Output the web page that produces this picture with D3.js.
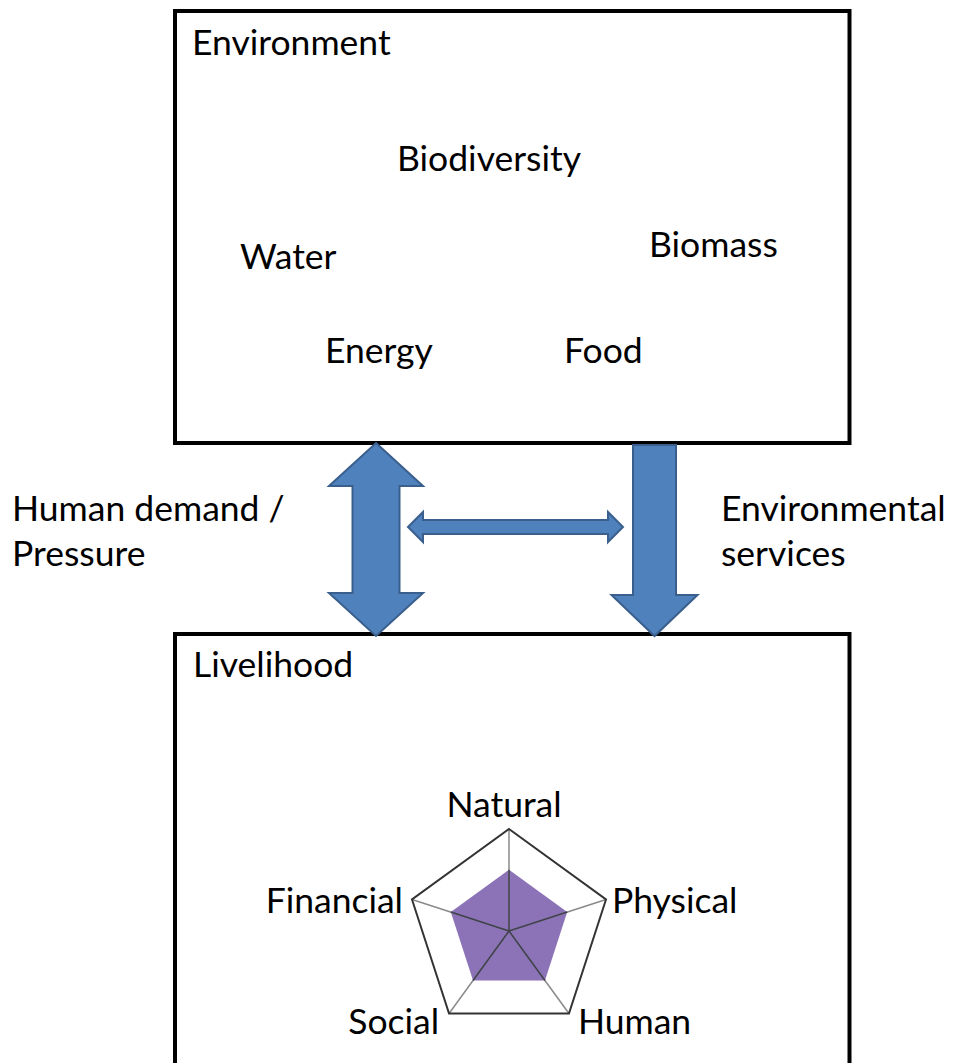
<!DOCTYPE html>
<meta charset="utf-8">
<style>
body { margin: 0; background: #fff; }
text {
  font-family: Lato, "Open Sans", sans-serif;
  font-size: 35.5px;
  fill: #000;
}
.box {
  fill: none;
  stroke: #000;
  stroke-width: 4;
}
.arrow {
  fill: #4f81bd;
  stroke: #3a5f8c;
  stroke-width: 2;
}
.outer {
  fill: none;
  stroke: #333;
  stroke-width: 2;
}
.spoke {
  stroke: #8a8a8a;
  stroke-width: 1.5;
}
.spoke-in {
  stroke: #3f3f4f;
  stroke-width: 1.5;
}
.area {
  fill: #8c73b8;
}
</style>
<svg width="954" height="1063"></svg>
<script src="https://d3js.org/d3.v7.min.js"></script>
<script>

// environment resources shown in the top box
var resources = ["Biodiversity", "Water", "Biomass", "Energy", "Food"];

// flows between the two boxes
var flowLeft = ["Human demand /", "Pressure"];
var flowRight = ["Environmental", "services"];

// livelihood capitals (radar axes, clockwise from top) and their scores
var capitals = ["Natural", "Physical", "Human", "Social", "Financial"];
var scores = [3, 3, 3, 3, 3];
var scoreMax = 5;

var svg = d3.select("svg");

// layout
var top1 = 11, bot1 = 443, left = 175, right = 849.5, top2 = 634;

svg.append("rect")
    .attr("class", "box")
    .attr("x", left).attr("y", top1)
    .attr("width", right - left).attr("height", bot1 - top1);

svg.append("path")
    .attr("class", "box")
    .attr("d", "M" + left + ",1070V" + top2 + "H" + right + "V1070");

svg.append("text").attr("x", 192).attr("y", 55).text("Environment");
svg.append("text").attr("x", 193).attr("y", 677).text("Livelihood");

var resPos = {
  "Biodiversity": [397, 171],
  "Water": [240, 269],
  "Biomass": [649, 257],
  "Energy": [325, 363],
  "Food": [564, 363]
};

svg.selectAll(".res")
  .data(resources)
  .enter().append("text")
    .attr("class", "res")
    .attr("x", function(d) { return resPos[d][0]; })
    .attr("y", function(d) { return resPos[d][1]; })
    .text(function(d) { return d; });

svg.selectAll(".fl")
  .data(flowLeft)
  .enter().append("text")
    .attr("class", "fl")
    .attr("x", 12)
    .attr("y", function(d, i) { return 521 + i * 45; })
    .text(function(d) { return d; });

svg.selectAll(".fr")
  .data(flowRight)
  .enter().append("text")
    .attr("class", "fr")
    .attr("x", 721)
    .attr("y", function(d, i) { return 521 + i * 45; })
    .text(function(d) { return d; });

// arrows
function vArrow(cx, y0, y1, hw, sw, hl, upHead) {
  var p = d3.path();
  if (upHead) {
    p.moveTo(cx, y0);
    p.lineTo(cx + hw, y0 + hl);
    p.lineTo(cx + sw, y0 + hl);
  } else {
    p.moveTo(cx + sw, y0);
  }
  p.lineTo(cx + sw, y1 - hl);
  p.lineTo(cx + hw, y1 - hl);
  p.lineTo(cx, y1);
  p.lineTo(cx - hw, y1 - hl);
  p.lineTo(cx - sw, y1 - hl);
  if (upHead) {
    p.lineTo(cx - sw, y0 + hl);
    p.lineTo(cx - hw, y0 + hl);
  } else {
    p.lineTo(cx - sw, y0);
  }
  p.closePath();
  return p.toString();
}

function hArrow(cy, x0, x1, hh, sh, hl) {
  var p = d3.path();
  p.moveTo(x0, cy);
  p.lineTo(x0 + hl, cy - hh);
  p.lineTo(x0 + hl, cy - sh);
  p.lineTo(x1 - hl, cy - sh);
  p.lineTo(x1 - hl, cy - hh);
  p.lineTo(x1, cy);
  p.lineTo(x1 - hl, cy + hh);
  p.lineTo(x1 - hl, cy + sh);
  p.lineTo(x0 + hl, cy + sh);
  p.lineTo(x0 + hl, cy + hh);
  p.closePath();
  return p.toString();
}

svg.append("path").attr("class", "arrow")
    .attr("d", vArrow(376, 443, 636, 47, 23.5, 43, true));
svg.append("path").attr("class", "arrow")
    .attr("d", vArrow(654.5, 445, 636, 43, 21.5, 41, false));
svg.append("path").attr("class", "arrow")
    .attr("d", hArrow(527, 408, 623, 15, 7, 15));

// radar
var cx = 509, cy = 931, R = 102;
var r = d3.scaleLinear().domain([0, scoreMax]).range([0, R]);
var angle = d3.scalePoint().domain(capitals).range([0, 2 * Math.PI * 4 / 5]);

var radar = svg.append("g").attr("transform", "translate(" + cx + "," + cy + ")");

var radial = d3.lineRadial()
    .angle(function(d) { return angle(d.k); })
    .radius(function(d) { return r(d.v); })
    .curve(d3.curveLinearClosed);

var pts = capitals.map(function(k, i) { return {k: k, v: scores[i]}; });

radar.append("path")
    .attr("class", "area")
    .attr("d", radial(pts));

function px(d, v) { return r(v) * Math.sin(angle(d.k)); }
function py(d, v) { return -r(v) * Math.cos(angle(d.k)); }

radar.selectAll(".spoke")
  .data(pts)
  .enter().append("line")
    .attr("class", "spoke")
    .attr("x2", function(d) { return px(d, scoreMax); })
    .attr("y2", function(d) { return py(d, scoreMax); });

radar.selectAll(".spoke-in")
  .data(pts)
  .enter().append("line")
    .attr("class", "spoke-in")
    .attr("x2", function(d) { return px(d, d.v); })
    .attr("y2", function(d) { return py(d, d.v); });

radar.append("path")
    .attr("class", "outer")
    .attr("d", radial(capitals.map(function(k) { return {k: k, v: scoreMax}; })));

var labelOff = {
  "Natural": [-5, -12, "middle"],
  "Physical": [6, 14, "start"],
  "Human": [9, 20, "start"],
  "Social": [-10, 20, "end"],
  "Financial": [-9, 14, "end"]
};

radar.selectAll(".cap")
  .data(pts)
  .enter().append("text")
    .attr("class", "cap")
    .attr("x", function(d) { return px(d, scoreMax) + labelOff[d.k][0]; })
    .attr("y", function(d) { return py(d, scoreMax) + labelOff[d.k][1]; })
    .attr("text-anchor", function(d) { return labelOff[d.k][2]; })
    .text(function(d) { return d.k; });

</script>
